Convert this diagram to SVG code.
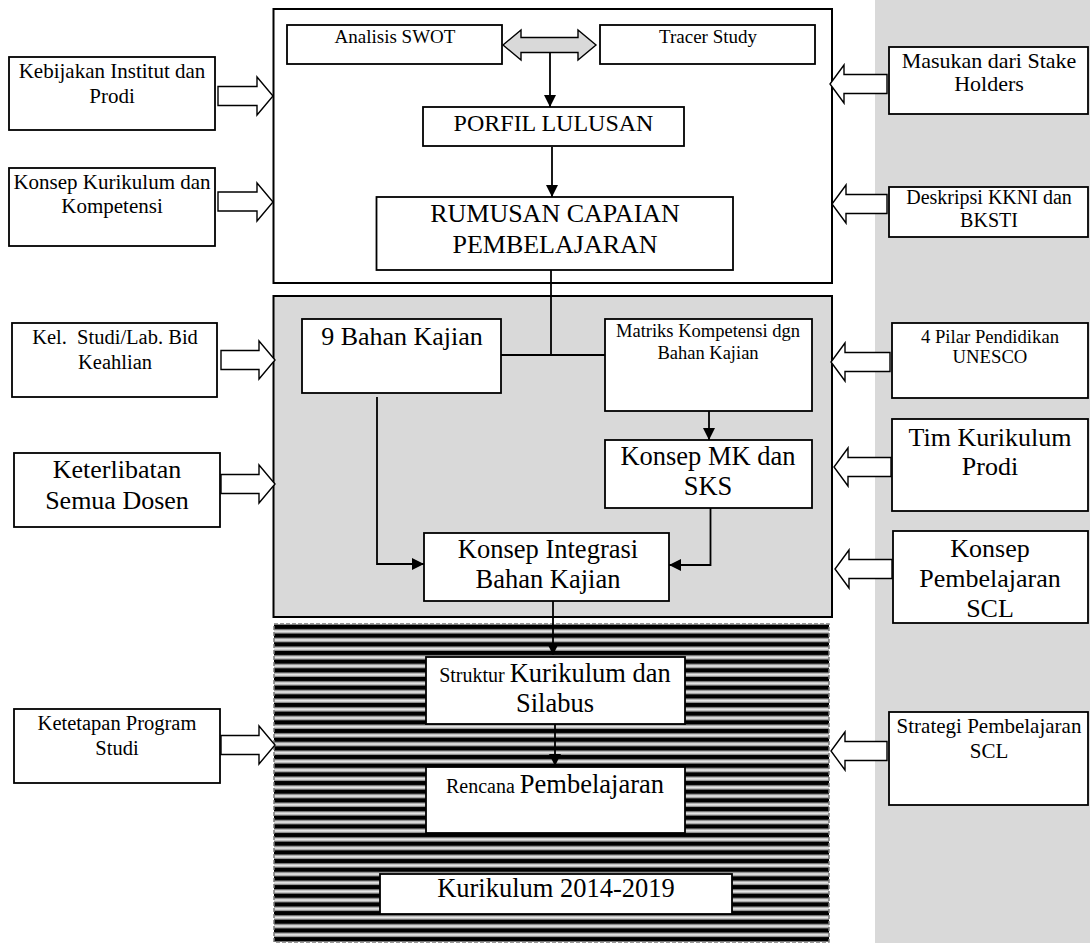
<svg xmlns="http://www.w3.org/2000/svg" width="1090" height="943" viewBox="0 0 1090 943">
  <style>
    .box { fill: #fff; stroke: #000; stroke-width: 1.8; }
    .frame { stroke: #000; stroke-width: 2; }
    .blk { fill: #fff; stroke: #000; stroke-width: 1.4; stroke-linejoin: miter; }
    .wire { fill: none; stroke: #000; stroke-width: 1.8; }
    text { font-family: "Liberation Serif", "Times New Roman", serif; fill: #000; text-anchor: middle; }
  </style>
  <defs>
    <marker id="ah" viewBox="0 0 12 12" refX="12" refY="6" markerWidth="12" markerHeight="12" markerUnits="userSpaceOnUse" orient="auto">
      <path d="M0,0 L12,6 L0,12 z" fill="#000"/>
    </marker>
    <linearGradient id="sheen" x1="0" y1="0" x2="0" y2="1">
      <stop offset="0" stop-color="#6a6a6a"/>
      <stop offset="0.3" stop-color="#c8c8c8"/>
      <stop offset="0.5" stop-color="#ececec"/>
      <stop offset="0.7" stop-color="#c8c8c8"/>
      <stop offset="1" stop-color="#6a6a6a"/>
    </linearGradient>
    <pattern id="stripes" patternUnits="userSpaceOnUse" x="0" y="625" width="10" height="8.67">
      <rect width="10" height="8.67" fill="#000"/>
      <rect y="4" width="10" height="4.67" fill="url(#sheen)"/>
    </pattern>
  </defs>

  <!-- page background and right-hand grey band -->
  <rect width="1090" height="943" fill="#fff"/>
  <rect x="875" y="0" width="215" height="943" fill="#d9d9d9"/>

  <!-- stage frames -->
  <g id="stage-profile">
    <rect class="frame" x="273.5" y="9" width="558.5" height="274" fill="#fff"/>
  </g>
  <g id="stage-study">
    <rect class="frame" x="273.5" y="296" width="558.5" height="321" fill="#d9d9d9"/>
  </g>
  <g id="stage-curriculum">
    <rect x="274" y="624" width="555" height="318" fill="url(#stripes)" stroke="#7a7a7a" stroke-width="1.5" stroke-dasharray="4 2"/>
  </g>

  <!-- inner nodes -->
  <g id="analisis-swot">
    <rect class="box" x="287" y="25" width="215" height="39"/>
    <text x="395" y="43" font-size="19">Analisis SWOT</text>
  </g>
  <g id="tracer-study">
    <rect class="box" x="600" y="25" width="215" height="39"/>
    <text x="708" y="43" font-size="19">Tracer Study</text>
  </g>
  <g id="profil-lulusan">
    <rect class="box" x="423" y="107" width="261" height="39"/>
    <text x="553.5" y="131" font-size="24">PORFIL LULUSAN</text>
  </g>
  <g id="rumusan-cp">
    <rect class="box" x="376.5" y="197" width="356.5" height="73"/>
    <text x="555" y="222" font-size="26">RUMUSAN CAPAIAN</text>
    <text x="555" y="253" font-size="26">PEMBELAJARAN</text>
  </g>
  <g id="bahan-kajian">
    <rect class="box" x="302" y="319" width="199" height="74"/>
    <text x="402" y="345" font-size="26">9 Bahan Kajian</text>
  </g>
  <g id="matriks-kompetensi">
    <rect class="box" x="605" y="319" width="207" height="92"/>
    <text x="708" y="337" font-size="18.5">Matriks Kompetensi dgn</text>
    <text x="708" y="359" font-size="18.5">Bahan Kajian</text>
  </g>
  <g id="konsep-mk">
    <rect class="box" x="605" y="440" width="207" height="68"/>
    <text x="708" y="465" font-size="26.5">Konsep MK dan</text>
    <text x="708" y="495" font-size="26.5">SKS</text>
  </g>
  <g id="konsep-integrasi">
    <rect class="box" x="424" y="533" width="245" height="68"/>
    <text x="548" y="558" font-size="26.5">Konsep Integrasi</text>
    <text x="548" y="588" font-size="26.5">Bahan Kajian</text>
  </g>
  <g id="struktur-kurikulum">
    <rect class="box" x="426" y="657" width="259" height="67"/>
    <text x="555" y="682"><tspan font-size="20">Struktur </tspan><tspan font-size="26.5">Kurikulum dan</tspan></text>
    <text x="555" y="712" font-size="26.5">Silabus</text>
  </g>
  <g id="rencana-pembelajaran">
    <rect class="box" x="426" y="767" width="259" height="66"/>
    <text x="555" y="793"><tspan font-size="20">Rencana </tspan><tspan font-size="26.5">Pembelajaran</tspan></text>
  </g>
  <g id="kurikulum-2014">
    <rect class="box" x="380" y="874" width="352" height="40"/>
    <text x="556" y="897" font-size="26.5">Kurikulum 2014-2019</text>
  </g>

  <!-- left input nodes -->
  <g id="kebijakan">
    <rect class="box" x="9" y="57" width="206" height="73"/>
    <text x="112" y="78" font-size="21">Kebijakan Institut dan</text>
    <text x="112" y="103" font-size="21">Prodi</text>
  </g>
  <g id="konsep-kurikulum">
    <rect class="box" x="9" y="168" width="206" height="78"/>
    <text x="112" y="189" font-size="21">Konsep Kurikulum dan</text>
    <text x="112" y="213" font-size="21">Kompetensi</text>
  </g>
  <g id="kel-studi">
    <rect class="box" x="12" y="323" width="205" height="74"/>
    <text x="115" y="344" font-size="20.5" xml:space="preserve">Kel.  Studi/Lab. Bid</text>
    <text x="115" y="369" font-size="20.5">Keahlian</text>
  </g>
  <g id="keterlibatan-dosen">
    <rect class="box" x="14" y="453" width="206" height="74"/>
    <text x="117" y="478" font-size="26">Keterlibatan</text>
    <text x="117" y="509" font-size="26">Semua Dosen</text>
  </g>
  <g id="ketetapan-prodi">
    <rect class="box" x="14" y="709" width="206" height="74"/>
    <text x="117" y="730" font-size="20.5">Ketetapan Program</text>
    <text x="117" y="755" font-size="20.5">Studi</text>
  </g>

  <!-- right input nodes -->
  <g id="masukan-stakeholders">
    <rect class="box" x="889" y="47" width="199" height="67"/>
    <text x="989" y="68" font-size="22">Masukan dari Stake</text>
    <text x="989" y="91" font-size="22">Holders</text>
  </g>
  <g id="deskripsi-kkni">
    <rect class="box" x="889" y="187" width="199" height="50"/>
    <text x="989" y="204" font-size="20">Deskripsi KKNI dan</text>
    <text x="989" y="227" font-size="20">BKSTI</text>
  </g>
  <g id="pilar-unesco">
    <rect class="box" x="892" y="323" width="196" height="75"/>
    <text x="990" y="343" font-size="18.7">4 Pilar Pendidikan</text>
    <text x="990" y="363" font-size="18.7">UNESCO</text>
  </g>
  <g id="tim-kurikulum">
    <rect class="box" x="892" y="419" width="196" height="92"/>
    <text x="990" y="446" font-size="26">Tim Kurikulum</text>
    <text x="990" y="475" font-size="26">Prodi</text>
  </g>
  <g id="konsep-scl">
    <rect class="box" x="893" y="531" width="195" height="92"/>
    <text x="990" y="557" font-size="26">Konsep</text>
    <text x="990" y="587" font-size="26">Pembelajaran</text>
    <text x="990" y="617" font-size="26">SCL</text>
  </g>
  <g id="strategi-scl">
    <rect class="box" x="889" y="712" width="199" height="93"/>
    <text x="989" y="733" font-size="21">Strategi Pembelajaran</text>
    <text x="989" y="758" font-size="21">SCL</text>
  </g>

  <!-- connectors -->
  <g id="connectors">
    <!-- two-way link between SWOT and tracer study -->
    <polygon points="503,45 521,30 521,37.5 578,37.5 578,30 596,45 578,60 578,52.5 521,52.5 521,60" fill="#d9d9d9" stroke="#000" stroke-width="1.4"/>
    <path class="wire" d="M550,53 V107" marker-end="url(#ah)"/>
    <path class="wire" d="M552,147 V197" marker-end="url(#ah)"/>
    <path class="wire" d="M551,270 V355"/>
    <path class="wire" d="M501,355 H605"/>
    <path class="wire" d="M709,411 V440" marker-end="url(#ah)"/>
    <path class="wire" d="M710.5,508 V565 H669" marker-end="url(#ah)"/>
    <path class="wire" d="M377,397 V564 H424" marker-end="url(#ah)"/>
    <path class="wire" d="M553,601 V655" marker-end="url(#ah)"/>
    <path class="wire" d="M555,724 V766" marker-end="url(#ah)"/>

    <!-- block arrows from the left inputs -->
    <polygon class="blk" points="218,86.5 257,86.5 257,77 273,96 257,115 257,105.5 218,105.5"/>
    <polygon class="blk" points="218,192 257,192 257,183 273,202 257,221 257,211 218,211"/>
    <polygon class="blk" points="221,350.5 259,350.5 259,341 275,360 259,379 259,369.5 221,369.5"/>
    <polygon class="blk" points="221,474.5 259,474.5 259,465 275,484 259,503 259,493.5 221,493.5"/>
    <polygon class="blk" points="221,735.5 259,735.5 259,726 275,745 259,764 259,754.5 221,754.5"/>

    <!-- block arrows from the right inputs -->
    <polygon class="blk" points="887,74.5 844,74.5 844,65 830,84 844,103 844,93.5 887,93.5"/>
    <polygon class="blk" points="887,194.5 846,194.5 846,185 832,204 846,223 846,213.5 887,213.5"/>
    <polygon class="blk" points="890,352.5 845,352.5 845,343 831,362 845,381 845,371.5 890,371.5"/>
    <polygon class="blk" points="891,457.5 848,457.5 848,448 834,467 848,486 848,476.5 891,476.5"/>
    <polygon class="blk" points="892,559.5 849,559.5 849,550 835,569 849,588 849,578.5 892,578.5"/>
    <polygon class="blk" points="887,741.5 845,741.5 845,732 831,751 845,770 845,760.5 887,760.5"/>
  </g>
</svg>
